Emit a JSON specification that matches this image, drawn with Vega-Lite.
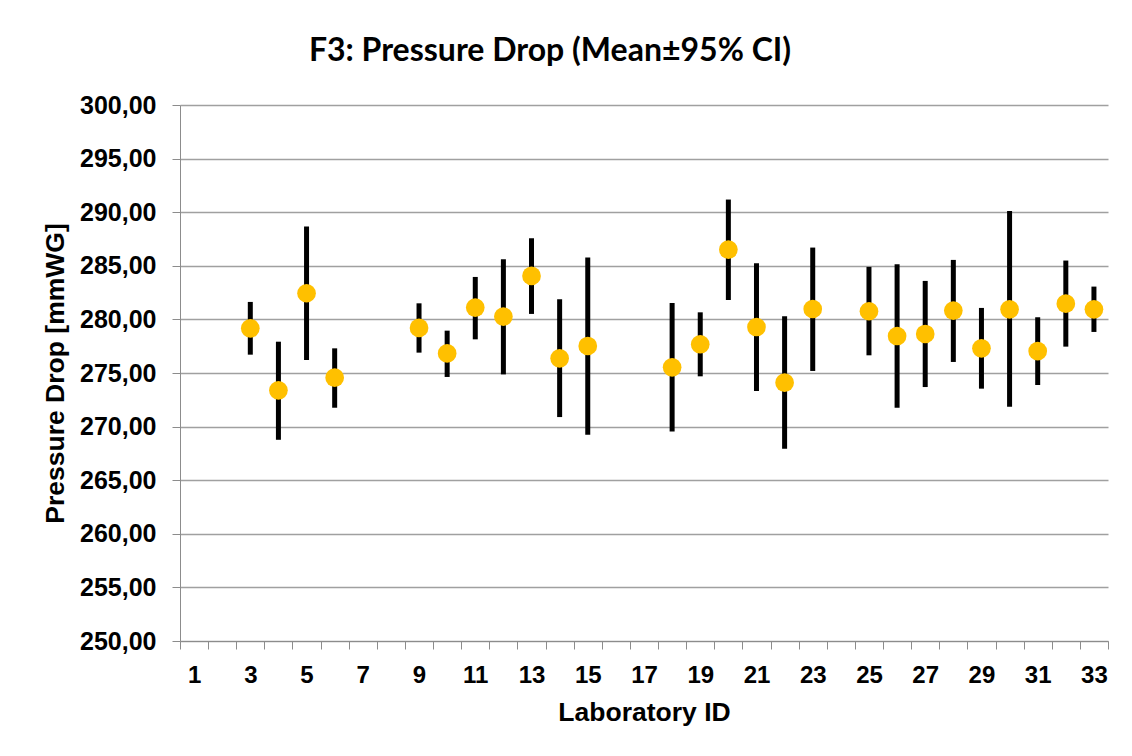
{
  "$schema": "https://vega.github.io/schema/vega-lite/v6.json",
  "width": 928,
  "height": 536,
  "autosize": {"type": "none"},
  "padding": {"left": 180, "top": 105, "right": 24, "bottom": 115},
  "background": "white",
  "config": {"view": {"stroke": null}},
  "title": {
    "text": "F3: Pressure Drop (Mean±95% CI)",
    "font": "Lato",
    "fontWeight": "bold",
    "fontSize": 32,
    "color": "black",
    "anchor": "middle",
    "frame": "group",
    "dx": -94,
    "offset": 25
  },
  "data": {
    "values": [
      {"lab": 3, "mean": 279.17, "lo": 276.71, "hi": 281.63},
      {"lab": 4, "mean": 273.38, "lo": 268.77, "hi": 277.92},
      {"lab": 5, "mean": 282.44, "lo": 276.21, "hi": 288.66},
      {"lab": 6, "mean": 274.56, "lo": 271.76, "hi": 277.30},
      {"lab": 9, "mean": 279.20, "lo": 276.90, "hi": 281.50},
      {"lab": 10, "mean": 276.83, "lo": 274.63, "hi": 278.95},
      {"lab": 11, "mean": 281.10, "lo": 278.14, "hi": 283.96},
      {"lab": 12, "mean": 280.26, "lo": 274.87, "hi": 285.61},
      {"lab": 13, "mean": 284.06, "lo": 280.51, "hi": 287.57},
      {"lab": 14, "mean": 276.37, "lo": 270.89, "hi": 281.88},
      {"lab": 15, "mean": 277.52, "lo": 269.24, "hi": 285.77},
      {"lab": 18, "mean": 275.53, "lo": 269.55, "hi": 281.53},
      {"lab": 19, "mean": 277.68, "lo": 274.69, "hi": 280.66},
      {"lab": 20, "mean": 286.51, "lo": 281.81, "hi": 291.18},
      {"lab": 21, "mean": 279.29, "lo": 273.32, "hi": 285.24},
      {"lab": 22, "mean": 274.10, "lo": 267.93, "hi": 280.29},
      {"lab": 23, "mean": 280.97, "lo": 275.19, "hi": 286.70},
      {"lab": 25, "mean": 280.76, "lo": 276.65, "hi": 284.90},
      {"lab": 26, "mean": 278.45, "lo": 271.76, "hi": 285.15},
      {"lab": 27, "mean": 278.64, "lo": 273.69, "hi": 283.59},
      {"lab": 28, "mean": 280.82, "lo": 276.03, "hi": 285.55},
      {"lab": 29, "mean": 277.30, "lo": 273.54, "hi": 281.07},
      {"lab": 30, "mean": 280.94, "lo": 271.85, "hi": 290.12},
      {"lab": 31, "mean": 277.05, "lo": 273.88, "hi": 280.20},
      {"lab": 32, "mean": 281.47, "lo": 277.46, "hi": 285.49},
      {"lab": 33, "mean": 280.94, "lo": 278.83, "hi": 283.06}
    ]
  },
  "encoding": {
    "x": {
      "field": "lab",
      "type": "ordinal",
      "scale": {
        "domain": [1,2,3,4,5,6,7,8,9,10,11,12,13,14,15,16,17,18,19,20,21,22,23,24,25,26,27,28,29,30,31,32,33],
        "paddingInner": 0,
        "paddingOuter": 0
      },
      "axis": {
        "title": "Laboratory ID",
        "titleFont": "Liberation Sans",
        "titleFontWeight": "bold",
        "titleFontSize": 26.5,
        "titleColor": "black",
        "titlePadding": 12,
        "labelFont": "Liberation Sans",
        "labelFontWeight": "bold",
        "labelFontSize": 24,
        "labelColor": "black",
        "labelAngle": 0,
        "labelPadding": 14,
        "labelExpr": "datum.value % 2 == 1 ? datum.label : ''",
        "tickBand": "extent",
        "tickSize": 8,
        "tickColor": "#8c8c8c",
        "domainColor": "#8c8c8c",
        "grid": false
      }
    }
  },
  "layer": [
    {
      "mark": {"type": "rule", "strokeWidth": 5, "strokeCap": "butt", "color": "black"},
      "encoding": {
        "y": {
          "field": "lo",
          "type": "quantitative",
          "scale": {"domain": [250, 300], "nice": false, "zero": false},
          "axis": {
            "title": "Pressure Drop [mmWG]",
            "titleFont": "Liberation Sans",
            "titleFontWeight": "bold",
            "titleFontSize": 26.5,
            "titleColor": "black",
            "titlePadding": 10,
            "labelFont": "Liberation Sans",
            "labelFontWeight": "bold",
            "labelFontSize": 25,
            "labelColor": "black",
            "labelPadding": 16,
            "values": [250,255,260,265,270,275,280,285,290,295,300],
            "labelExpr": "replace(format(datum.value, '.2f'), '.', ',')",
            "tickSize": 8,
            "tickColor": "#8c8c8c",
            "domainColor": "#8c8c8c",
            "gridColor": "#a0a0a0",
            "gridWidth": 1.3
          }
        },
        "y2": {"field": "hi"}
      }
    },
    {
      "mark": {"type": "point", "filled": true, "shape": "circle", "size": 350, "color": "#FFC000", "opacity": 1},
      "encoding": {
        "y": {"field": "mean", "type": "quantitative"}
      }
    }
  ]
}
